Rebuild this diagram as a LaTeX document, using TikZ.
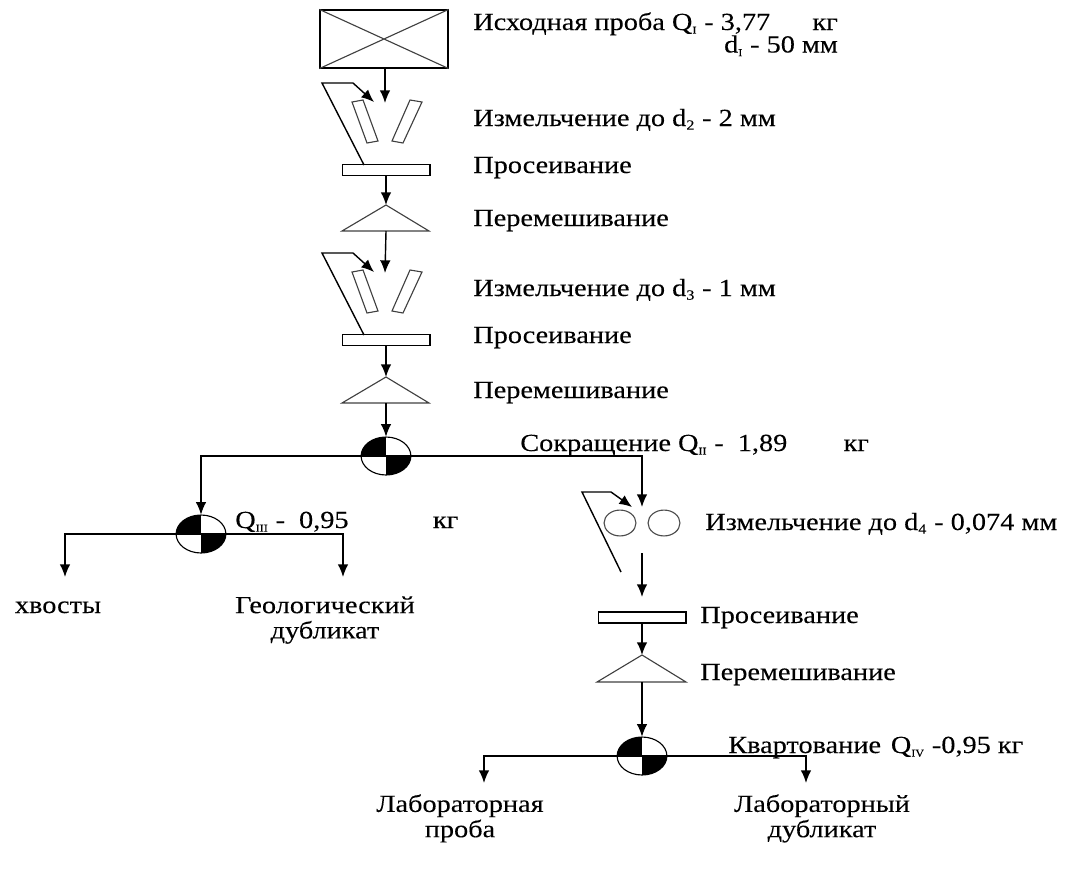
\documentclass[tikz,border=0pt]{standalone}
\usepackage{fontspec}
\setmainfont[FakeStretch=1.15,FakeBold=0.12]{Liberation Serif}
\usetikzlibrary{arrows.meta,shapes.geometric}
\newcommand\rsub[1]{\textsubscript{\fontsize{7.5}{7.5}\selectfont #1}}
\newcommand\nsub[1]{\textsubscript{\fontsize{10}{10}\selectfont #1}}
\begin{document}
\begin{tikzpicture}[x=0.025cm,y=-0.025cm,
  every node/.style={font=\fontsize{17.5}{18}\selectfont, inner sep=0pt},
  ln/.style={line width=1pt},
  thinln/.style={line width=0.8pt, draw=black!75},
  arr/.style={line width=1pt,-{Latex[length=9pt,width=7.5pt]}},
  lbl/.style={anchor=base west},
  sievebox/.style={draw, line width=0.9pt, minimum width=62.4pt, minimum height=7.8pt},
  splitnode/.style={ellipse, minimum width=35.4pt, minimum height=27pt},
  rollnode/.style={ellipse, draw=black!70, line width=0.8pt, minimum width=22.7pt, minimum height=18.4pt}
]
\useasboundingbox (0,0) rectangle (1082,869);

% ---- initial sample box
\node[draw, line width=1pt, minimum width=90.8pt, minimum height=41pt] (b1) at (384,39) {};
\draw[thinln] (b1.north west) -- (b1.south east) (b1.north east) -- (b1.south west);

% ---- crusher 1
\coordinate (c1tip) at (385,103);
\coordinate (c1f) at (353,83);
\coordinate (c1fa) at (374,102);
\draw[ln] (c1f) -- (322,83) -- (364,165);
\draw[arr] (c1f) -- (c1fa);
\draw[arr] (b1.south -| c1tip) -- (c1tip);
\draw[thinln] (352,102) -- (363,100) -- (378,141) -- (367,143) -- cycle;
\draw[thinln] (410,100) -- (422,102) -- (403,143) -- (392,141) -- cycle;

% ---- sieve 1, mixer 1
\node[sievebox] (sv1) at (386,170) {};
\coordinate (m1a) at (386,205);
\coordinate (m1b) at (386,231);
\draw[thinln] (m1a) -- (342,231) -- (429,231) -- cycle;
\draw[arr] (sv1.south) -- (m1a);

% ---- crusher 2
\coordinate (c2tip) at (385,273);
\coordinate (c2f) at (353,253);
\coordinate (c2fa) at (374,272);
\draw[ln] (c2f) -- (322,253) -- (364,335);
\draw[arr] (c2f) -- (c2fa);
\draw[arr] (m1b) -- (c2tip);
\draw[thinln] (352,272) -- (363,270) -- (378,311) -- (367,313) -- cycle;
\draw[thinln] (410,270) -- (422,272) -- (403,313) -- (392,311) -- cycle;

% ---- sieve 2, mixer 2
\node[sievebox] (sv2) at (386,340) {};
\coordinate (m2a) at (386,377);
\coordinate (m2b) at (386,403);
\draw[thinln] (m2a) -- (342,403) -- (429,403) -- cycle;
\draw[arr] (sv2.south) -- (m2a);

% ---- splitters
\node[splitnode] (s1) at (386,456) {};
\node[splitnode] (s2) at (201,534) {};
\node[splitnode] (s3) at (642,756) {};
\foreach \s in {s1,s2,s3}{
  \begin{scope}
    \clip (\s.center) ellipse [x radius=17.7pt, y radius=13.5pt];
    \fill (\s.center) rectangle ++(-30,-30);
    \fill (\s.center) rectangle ++(30,30);
  \end{scope}
}
\draw[arr] (m2b) -- (s1.north);

% ---- crusher 3
\coordinate (c3tip) at (642,507);
\coordinate (c3f) at (611,492);
\coordinate (c3fa) at (632,507);
\coordinate (c3out) at (642,553);
\coordinate (c3end) at (642,597);
\draw[ln] (c3f) -- (582,492) -- (621,572);
\draw[arr] (c3f) -- (c3fa);
\node[rollnode] (r1) at (620,523) {};
\node[rollnode] (r2) at (664,523) {};
\draw[arr] (c3out) -- (c3end);

% ---- branches from splitter 1
\draw[arr] (s1.center) -| (s2.north);
\draw[arr] (s1.center) -| (c3tip);

% ---- branches from splitter 2
\coordinate (x2a) at (65,577);
\coordinate (x2b) at (343,577);
\draw[arr] (s2.center) -| (x2a);
\draw[arr] (s2.center) -| (x2b);

% ---- sieve 3, mixer 3
\node[sievebox] (sv3) at (642,617.5) {};
\coordinate (m3a) at (642,655);
\coordinate (m3b) at (642,682);
\draw[thinln] (m3a) -- (597,682) -- (686,682) -- cycle;
\draw[arr] (sv3.south) -- (m3a);
\draw[arr] (m3b) -- (s3.north);

% ---- branches from splitter 3
\coordinate (l3a) at (484,783);
\coordinate (l3b) at (806,783);
\draw[arr] (s3.center) -| (l3a);
\draw[arr] (s3.center) -| (l3b);

% splitter outlines on top
\foreach \s in {s1,s2,s3}{
  \draw[line width=0.8pt] (\s.center) ellipse [x radius=17.7pt, y radius=13.5pt];
}

% ---- texts
\node[lbl] (t1) at (473,30) {Исходная проба Q\rsub{I} - 3,77\hspace{30pt}кг};
\node[anchor=base east] (t1b) at ([yshift=-16pt]t1.base east) {d\rsub{I} - 50 мм};
\node[lbl] (t2) at (473,126) {Измельчение до d\nsub{2} - 2 мм};
\node[lbl] (t3) at (473,173) {Просеивание};
\node[lbl] (t4) at (473,226) {Перемешивание};
\node[lbl] (t5) at (473,296) {Измельчение до d\nsub{3} - 1 мм};
\node[lbl] (t6) at (473,343) {Просеивание};
\node[lbl] (t7) at (473,398) {Перемешивание};
\node[lbl] (t8) at (520,451) {Сокращение Q\rsub{II} -\hspace{10pt}1,89\hspace{40pt}кг};
\node[lbl] (t9) at (235,528) {Q\rsub{III} -\hspace{10pt}0,95\hspace{60pt}кг};
\node[lbl] (t10) at (705,530) {Измельчение до d\nsub{4} - 0,074 мм};
\node[anchor=base] (t11) at (58,613) {хвосты};
\node[anchor=north, align=center] (t12) at (325,596) {Геологический\\дубликат};
\node[lbl] (t13) at (700,623) {Просеивание};
\node[lbl] (t14) at (700,680) {Перемешивание};
\node[lbl] (t15) at (728,753) {Квартование\hspace{7pt}Q\rsub{IV} -0,95 кг};
\node[anchor=north, align=center] (t16) at (460,794) {Лабораторная\\проба};
\node[anchor=north, align=center] (t17) at (822,794) {Лабораторный\\дубликат};
\end{tikzpicture}
\end{document}
